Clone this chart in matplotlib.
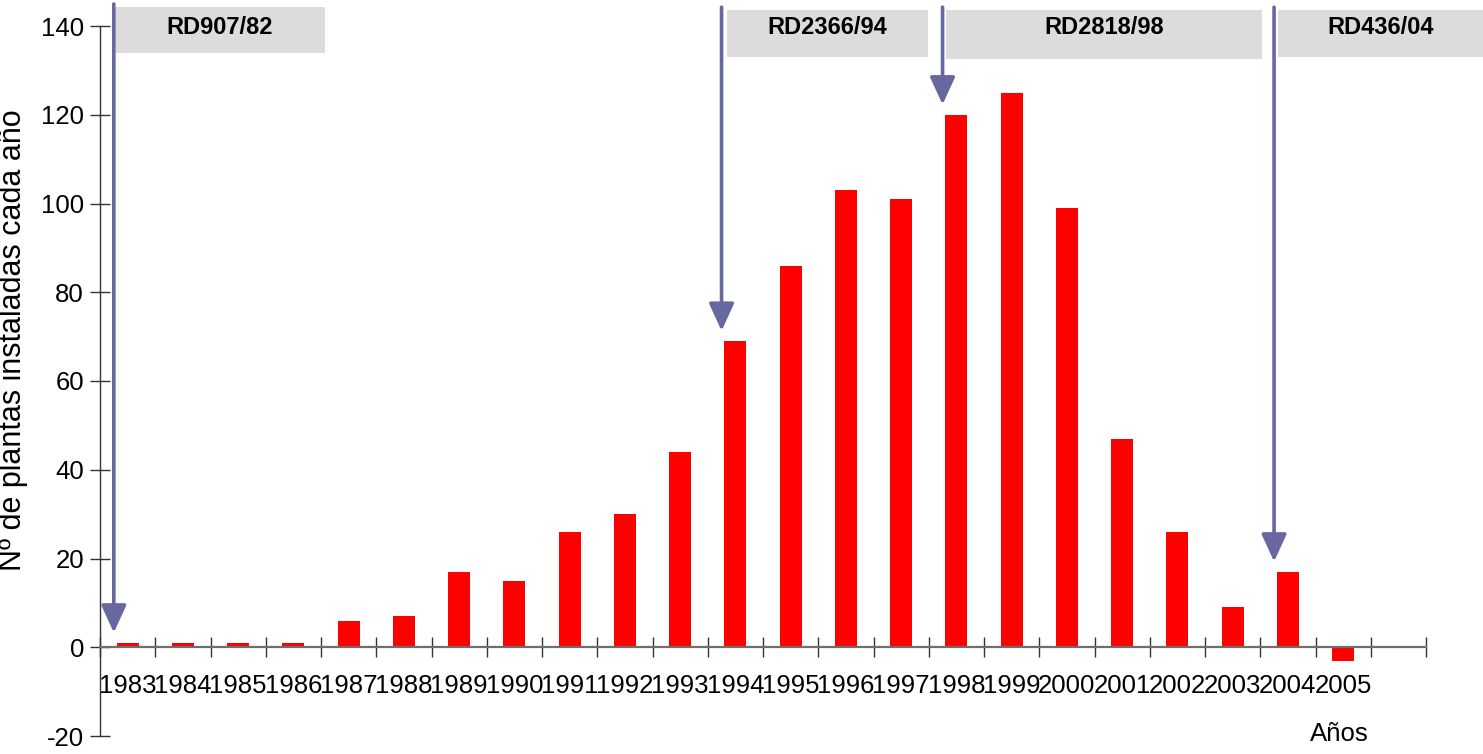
import numpy as np
import matplotlib.pyplot as plt
from matplotlib.patches import Rectangle, FancyArrowPatch
import matplotlib.transforms as mtransforms

plt.rcParams['font.family'] = ['Liberation Sans', 'DejaVu Sans']
plt.rcParams['axes.unicode_minus'] = False

# datos
years = [str(y) for y in range(1983, 2006)]
plants = [1, 1, 1, 1, 6, 7, 17, 15, 26, 30, 44, 69, 86, 103, 101, 120, 125, 99, 47, 26, 9, 17, -3]

# normativas (real decreto) y año en que entran
rd_labels = ['RD907/82', 'RD2366/94', 'RD2818/98', 'RD436/04']
rd_years = ['1983', '1994', '1998', '2004']
# extension de las cajas grises (en posicion de categoria)
rd_box_x = [(-0.23, 3.57), (10.85, 14.49), (14.81, 20.53), (20.82, 24.53)]
rd_box_y = [(0.962, 1.027), (0.956, 1.0225), (0.953, 1.0225), (0.956, 1.0225)]

fig = plt.figure(figsize=(14.83, 7.54), dpi=100)
ax = fig.add_axes([100 / 1483, 18 / 754, 1326 / 1483, 710 / 754])

x = np.arange(len(years))
ax.bar(x, plants, width=0.4, color='#ff0000', zorder=2)

ax.set_xlim(-0.5, len(years) + 0.5)
ax.set_ylim(-20, 140)
ax.set_yticks(range(-20, 141, 20))

# marcas en los limites de categoria, etiquetas en el centro
ax.set_xticks(np.arange(-0.5, len(years) + 1, 1))
ax.set_xticklabels([])
ax.set_xticks(x, minor=True)
ax.set_xticklabels(years, minor=True)
ax.tick_params(axis='x', which='major', direction='inout', length=15, width=1, color='#333333')
ax.tick_params(axis='x', which='minor', length=0, pad=19, labelsize=18.5)
ax.tick_params(axis='y', direction='inout', length=15, width=1, color='#333333', labelsize=18.5, pad=4)

for s in ['top', 'right']:
    ax.spines[s].set_visible(False)
ax.spines['bottom'].set_position(('data', 0))
ax.spines['bottom'].set_color('#6e6e6e')
ax.spines['bottom'].set_linewidth(1.6)
ax.spines['left'].set_color('#333333')
ax.spines['left'].set_linewidth(1)

ax.set_ylabel('Nº de plantas instaladas cada año', fontsize=22)
ax.yaxis.set_label_coords(-0.0545, 0.558)
ax.text(len(years) - 1.07, -19.5, 'Años', fontsize=18.5, ha='center', va='center')

trans = mtransforms.blended_transform_factory(ax.transData, ax.transAxes)
arrow_col = '#6868a0'
for lab, yr, (x0, x1), (y0, y1) in zip(rd_labels, rd_years, rd_box_x, rd_box_y):
    box = Rectangle((x0, y0), x1 - x0, y1 - y0, transform=trans,
                    facecolor='#dcdcdc', edgecolor='none', clip_on=False, zorder=3)
    ax.add_patch(box)
    ax.text((x0 + x1) / 2, 0.9985, lab, transform=trans, ha='center', va='center',
            fontsize=17, fontweight='bold', zorder=4, clip_on=False)
    i = years.index(yr)
    xa = i - 0.25
    top = y1 + 0.004
    tip = plants[i] + 2.3
    y_top = -20 + top * 160
    arr = FancyArrowPatch((xa, y_top), (xa, tip), arrowstyle='-|>,head_length=1.2,head_width=0.55',
                          mutation_scale=14, color=arrow_col, lw=2.6, clip_on=False,
                          shrinkA=0, shrinkB=0, zorder=5)
    ax.add_patch(arr)

plt.savefig('out.png', dpi=100, facecolor='white')
